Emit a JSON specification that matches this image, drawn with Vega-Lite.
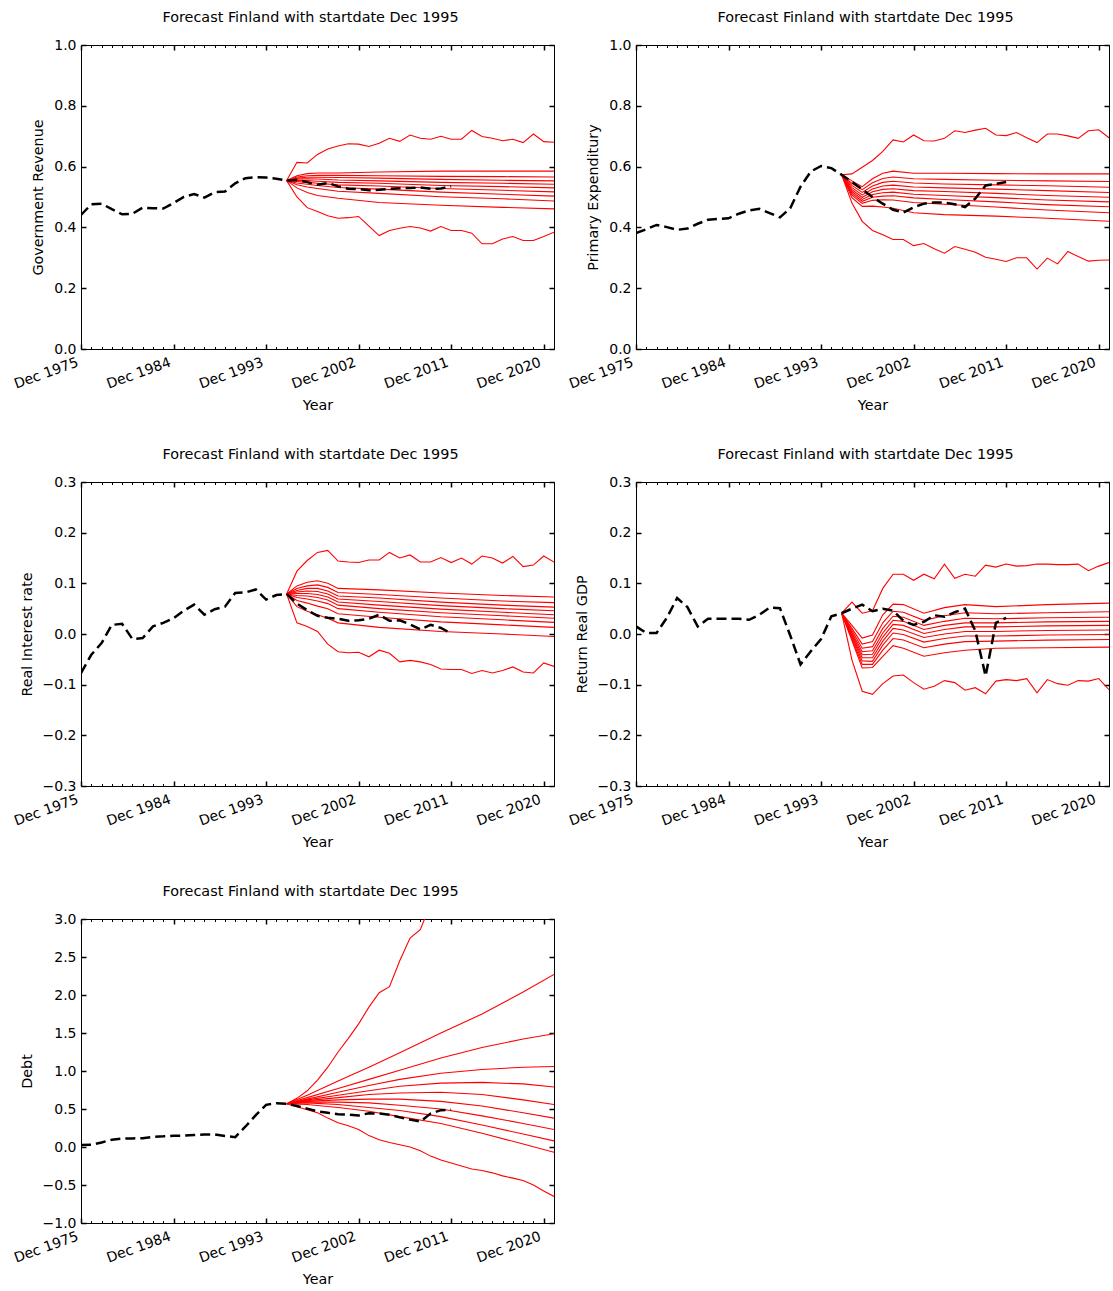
{
  "$schema": "https://vega.github.io/schema/vega-lite/v6.json",
  "background": "white",
  "padding": {"left": 11, "top": 9, "right": 3, "bottom": 3},
  "bounds": "flush",
  "columns": 2,
  "spacing": {"row": 133, "column": 82},
  "concat": [
    {
      "title": "Forecast Finland with startdate Dec 1995",
      "width": 473, "height": 304,
      "layer": [
        {
          "data": {"name": "forecast"},
          "transform": [{"filter": "datum.k === 'GR'"}],
          "mark": {"type": "line", "color": "#ff0000", "strokeWidth": 1.1, "clip": true},
          "encoding": {
            "x": {"field": "t", "type": "quantitative", "scale": {"domain": [1975, 2021], "nice": false, "zero": false},
              "axis": {"orient": "bottom", "title": "Year", "tickCount": 46, "labelExpr": "(datum.value - 1975) % 9 === 0 ? 'Dec ' + datum.value : ''", "tickSize": {"condition": {"test": "(datum.value - 1975) % 9 === 0", "value": -5}, "value": -2.5}, "tickWidth": {"condition": {"test": "(datum.value - 1975) % 9 === 0", "value": 1.5}, "value": 1}, "labelAngle": -20, "labelAlign": "right", "labelBaseline": "top", "labelPadding": 11, "labelOffset": -6, "titlePadding": 7}},
            "y": {"field": "y", "type": "quantitative", "scale": {"domain": [0, 1], "nice": false, "zero": false},
              "axis": {"orient": "left", "title": "Government Revenue", "values": [0, 0.2, 0.4, 0.6, 0.8, 1], "format": ".1f", "tickSize": -5, "tickWidth": 1.5, "labelPadding": 10, "titlePadding": 8}},
            "detail": {"field": "q", "type": "nominal"}
          }
        },
        {
          "data": {"name": "history"},
          "transform": [{"filter": "datum.k === 'GR'"}],
          "mark": {"type": "line", "color": "black", "strokeWidth": 2.5, "strokeDash": [10, 5], "clip": true},
          "encoding": {
            "x": {"field": "t", "type": "quantitative", "scale": {"domain": [1975, 2021], "nice": false, "zero": false},
              "axis": {"orient": "top", "title": null, "labels": false, "tickCount": 46, "tickSize": {"condition": {"test": "(datum.value - 1975) % 9 === 0", "value": -5}, "value": -2.5}, "tickWidth": {"condition": {"test": "(datum.value - 1975) % 9 === 0", "value": 1.5}, "value": 1}}},
            "y": {"field": "y", "type": "quantitative", "scale": {"domain": [0, 1], "nice": false, "zero": false},
              "axis": {"orient": "right", "title": null, "labels": false, "values": [0, 0.2, 0.4, 0.6, 0.8, 1], "tickSize": -5, "tickWidth": 1.5}}
          }
        }
      ],
      "resolve": {"axis": {"x": "independent", "y": "independent"}}
    },
    {
      "title": "Forecast Finland with startdate Dec 1995",
      "width": 473, "height": 304,
      "layer": [
        {
          "data": {"name": "forecast"},
          "transform": [{"filter": "datum.k === 'PE'"}],
          "mark": {"type": "line", "color": "#ff0000", "strokeWidth": 1.1, "clip": true},
          "encoding": {
            "x": {"field": "t", "type": "quantitative", "scale": {"domain": [1975, 2021], "nice": false, "zero": false},
              "axis": {"orient": "bottom", "title": "Year", "tickCount": 46, "labelExpr": "(datum.value - 1975) % 9 === 0 ? 'Dec ' + datum.value : ''", "tickSize": {"condition": {"test": "(datum.value - 1975) % 9 === 0", "value": -5}, "value": -2.5}, "tickWidth": {"condition": {"test": "(datum.value - 1975) % 9 === 0", "value": 1.5}, "value": 1}, "labelAngle": -20, "labelAlign": "right", "labelBaseline": "top", "labelPadding": 11, "labelOffset": -6, "titlePadding": 7}},
            "y": {"field": "y", "type": "quantitative", "scale": {"domain": [0, 1], "nice": false, "zero": false},
              "axis": {"orient": "left", "title": "Primary Expenditury", "values": [0, 0.2, 0.4, 0.6, 0.8, 1], "format": ".1f", "tickSize": -5, "tickWidth": 1.5, "labelPadding": 10, "titlePadding": 8}},
            "detail": {"field": "q", "type": "nominal"}
          }
        },
        {
          "data": {"name": "history"},
          "transform": [{"filter": "datum.k === 'PE'"}],
          "mark": {"type": "line", "color": "black", "strokeWidth": 2.5, "strokeDash": [10, 5], "clip": true},
          "encoding": {
            "x": {"field": "t", "type": "quantitative", "scale": {"domain": [1975, 2021], "nice": false, "zero": false},
              "axis": {"orient": "top", "title": null, "labels": false, "tickCount": 46, "tickSize": {"condition": {"test": "(datum.value - 1975) % 9 === 0", "value": -5}, "value": -2.5}, "tickWidth": {"condition": {"test": "(datum.value - 1975) % 9 === 0", "value": 1.5}, "value": 1}}},
            "y": {"field": "y", "type": "quantitative", "scale": {"domain": [0, 1], "nice": false, "zero": false},
              "axis": {"orient": "right", "title": null, "labels": false, "values": [0, 0.2, 0.4, 0.6, 0.8, 1], "tickSize": -5, "tickWidth": 1.5}}
          }
        }
      ],
      "resolve": {"axis": {"x": "independent", "y": "independent"}}
    },
    {
      "title": "Forecast Finland with startdate Dec 1995",
      "width": 473, "height": 304,
      "layer": [
        {
          "data": {"name": "forecast"},
          "transform": [{"filter": "datum.k === 'RI'"}],
          "mark": {"type": "line", "color": "#ff0000", "strokeWidth": 1.1, "clip": true},
          "encoding": {
            "x": {"field": "t", "type": "quantitative", "scale": {"domain": [1975, 2021], "nice": false, "zero": false},
              "axis": {"orient": "bottom", "title": "Year", "tickCount": 46, "labelExpr": "(datum.value - 1975) % 9 === 0 ? 'Dec ' + datum.value : ''", "tickSize": {"condition": {"test": "(datum.value - 1975) % 9 === 0", "value": -5}, "value": -2.5}, "tickWidth": {"condition": {"test": "(datum.value - 1975) % 9 === 0", "value": 1.5}, "value": 1}, "labelAngle": -20, "labelAlign": "right", "labelBaseline": "top", "labelPadding": 11, "labelOffset": -6, "titlePadding": 7}},
            "y": {"field": "y", "type": "quantitative", "scale": {"domain": [-0.3, 0.3], "nice": false, "zero": false},
              "axis": {"orient": "left", "title": "Real Interest rate", "values": [-0.3, -0.2, -0.1, 0, 0.1, 0.2, 0.3], "format": ".1f", "tickSize": -5, "tickWidth": 1.5, "labelPadding": 10, "titlePadding": 8}},
            "detail": {"field": "q", "type": "nominal"}
          }
        },
        {
          "data": {"name": "history"},
          "transform": [{"filter": "datum.k === 'RI'"}],
          "mark": {"type": "line", "color": "black", "strokeWidth": 2.5, "strokeDash": [10, 5], "clip": true},
          "encoding": {
            "x": {"field": "t", "type": "quantitative", "scale": {"domain": [1975, 2021], "nice": false, "zero": false},
              "axis": {"orient": "top", "title": null, "labels": false, "tickCount": 46, "tickSize": {"condition": {"test": "(datum.value - 1975) % 9 === 0", "value": -5}, "value": -2.5}, "tickWidth": {"condition": {"test": "(datum.value - 1975) % 9 === 0", "value": 1.5}, "value": 1}}},
            "y": {"field": "y", "type": "quantitative", "scale": {"domain": [-0.3, 0.3], "nice": false, "zero": false},
              "axis": {"orient": "right", "title": null, "labels": false, "values": [-0.3, -0.2, -0.1, 0, 0.1, 0.2, 0.3], "tickSize": -5, "tickWidth": 1.5}}
          }
        }
      ],
      "resolve": {"axis": {"x": "independent", "y": "independent"}}
    },
    {
      "title": "Forecast Finland with startdate Dec 1995",
      "width": 473, "height": 304,
      "layer": [
        {
          "data": {"name": "forecast"},
          "transform": [{"filter": "datum.k === 'GDP'"}],
          "mark": {"type": "line", "color": "#ff0000", "strokeWidth": 1.1, "clip": true},
          "encoding": {
            "x": {"field": "t", "type": "quantitative", "scale": {"domain": [1975, 2021], "nice": false, "zero": false},
              "axis": {"orient": "bottom", "title": "Year", "tickCount": 46, "labelExpr": "(datum.value - 1975) % 9 === 0 ? 'Dec ' + datum.value : ''", "tickSize": {"condition": {"test": "(datum.value - 1975) % 9 === 0", "value": -5}, "value": -2.5}, "tickWidth": {"condition": {"test": "(datum.value - 1975) % 9 === 0", "value": 1.5}, "value": 1}, "labelAngle": -20, "labelAlign": "right", "labelBaseline": "top", "labelPadding": 11, "labelOffset": -6, "titlePadding": 7}},
            "y": {"field": "y", "type": "quantitative", "scale": {"domain": [-0.3, 0.3], "nice": false, "zero": false},
              "axis": {"orient": "left", "title": "Return Real GDP", "values": [-0.3, -0.2, -0.1, 0, 0.1, 0.2, 0.3], "format": ".1f", "tickSize": -5, "tickWidth": 1.5, "labelPadding": 10, "titlePadding": 8}},
            "detail": {"field": "q", "type": "nominal"}
          }
        },
        {
          "data": {"name": "history"},
          "transform": [{"filter": "datum.k === 'GDP'"}],
          "mark": {"type": "line", "color": "black", "strokeWidth": 2.5, "strokeDash": [10, 5], "clip": true},
          "encoding": {
            "x": {"field": "t", "type": "quantitative", "scale": {"domain": [1975, 2021], "nice": false, "zero": false},
              "axis": {"orient": "top", "title": null, "labels": false, "tickCount": 46, "tickSize": {"condition": {"test": "(datum.value - 1975) % 9 === 0", "value": -5}, "value": -2.5}, "tickWidth": {"condition": {"test": "(datum.value - 1975) % 9 === 0", "value": 1.5}, "value": 1}}},
            "y": {"field": "y", "type": "quantitative", "scale": {"domain": [-0.3, 0.3], "nice": false, "zero": false},
              "axis": {"orient": "right", "title": null, "labels": false, "values": [-0.3, -0.2, -0.1, 0, 0.1, 0.2, 0.3], "tickSize": -5, "tickWidth": 1.5}}
          }
        }
      ],
      "resolve": {"axis": {"x": "independent", "y": "independent"}}
    },
    {
      "title": "Forecast Finland with startdate Dec 1995",
      "width": 473, "height": 304,
      "layer": [
        {
          "data": {"name": "forecast"},
          "transform": [{"filter": "datum.k === 'Debt'"}],
          "mark": {"type": "line", "color": "#ff0000", "strokeWidth": 1.1, "clip": true},
          "encoding": {
            "x": {"field": "t", "type": "quantitative", "scale": {"domain": [1975, 2021], "nice": false, "zero": false},
              "axis": {"orient": "bottom", "title": "Year", "tickCount": 46, "labelExpr": "(datum.value - 1975) % 9 === 0 ? 'Dec ' + datum.value : ''", "tickSize": {"condition": {"test": "(datum.value - 1975) % 9 === 0", "value": -5}, "value": -2.5}, "tickWidth": {"condition": {"test": "(datum.value - 1975) % 9 === 0", "value": 1.5}, "value": 1}, "labelAngle": -20, "labelAlign": "right", "labelBaseline": "top", "labelPadding": 11, "labelOffset": -6, "titlePadding": 7}},
            "y": {"field": "y", "type": "quantitative", "scale": {"domain": [-1, 3], "nice": false, "zero": false},
              "axis": {"orient": "left", "title": "Debt", "values": [-1, -0.5, 0, 0.5, 1, 1.5, 2, 2.5, 3], "format": ".1f", "tickSize": -5, "tickWidth": 1.5, "labelPadding": 10, "titlePadding": 8}},
            "detail": {"field": "q", "type": "nominal"}
          }
        },
        {
          "data": {"name": "history"},
          "transform": [{"filter": "datum.k === 'Debt'"}],
          "mark": {"type": "line", "color": "black", "strokeWidth": 2.5, "strokeDash": [10, 5], "clip": true},
          "encoding": {
            "x": {"field": "t", "type": "quantitative", "scale": {"domain": [1975, 2021], "nice": false, "zero": false},
              "axis": {"orient": "top", "title": null, "labels": false, "tickCount": 46, "tickSize": {"condition": {"test": "(datum.value - 1975) % 9 === 0", "value": -5}, "value": -2.5}, "tickWidth": {"condition": {"test": "(datum.value - 1975) % 9 === 0", "value": 1.5}, "value": 1}}},
            "y": {"field": "y", "type": "quantitative", "scale": {"domain": [-1, 3], "nice": false, "zero": false},
              "axis": {"orient": "right", "title": null, "labels": false, "values": [-1, -0.5, 0, 0.5, 1, 1.5, 2, 2.5, 3], "tickSize": -5, "tickWidth": 1.5}}
          }
        }
      ],
      "resolve": {"axis": {"x": "independent", "y": "independent"}}
    }
  ],
  "datasets": {
    "history": [
      {"k":"GR","t":1975,"y":0.441},{"k":"GR","t":1976,"y":0.476},{"k":"GR","t":1977,"y":0.478},{"k":"GR","t":1978,"y":0.46},{"k":"GR","t":1979,"y":0.443},{"k":"GR","t":1980,"y":0.445},{"k":"GR","t":1981,"y":0.465},{"k":"GR","t":1982,"y":0.463},{"k":"GR","t":1983,"y":0.462},{"k":"GR","t":1984,"y":0.48},{"k":"GR","t":1985,"y":0.5},{"k":"GR","t":1986,"y":0.51},{"k":"GR","t":1987,"y":0.498},{"k":"GR","t":1988,"y":0.516},{"k":"GR","t":1989,"y":0.518},{"k":"GR","t":1990,"y":0.545},{"k":"GR","t":1991,"y":0.562},{"k":"GR","t":1992,"y":0.565},{"k":"GR","t":1993,"y":0.564},{"k":"GR","t":1994,"y":0.56},{"k":"GR","t":1995,"y":0.554},{"k":"GR","t":1996,"y":0.556},{"k":"GR","t":1997,"y":0.549},{"k":"GR","t":1998,"y":0.54},{"k":"GR","t":1999,"y":0.546},{"k":"GR","t":2000,"y":0.535},{"k":"GR","t":2001,"y":0.527},{"k":"GR","t":2002,"y":0.526},{"k":"GR","t":2003,"y":0.522},{"k":"GR","t":2004,"y":0.524},{"k":"GR","t":2005,"y":0.527},{"k":"GR","t":2006,"y":0.529},{"k":"GR","t":2007,"y":0.53},{"k":"GR","t":2008,"y":0.531},{"k":"GR","t":2009,"y":0.527},{"k":"GR","t":2010,"y":0.528},{"k":"GR","t":2011,"y":0.535},
      {"k":"PE","t":1975,"y":0.381},{"k":"PE","t":1976,"y":0.394},{"k":"PE","t":1977,"y":0.408},{"k":"PE","t":1978,"y":0.401},{"k":"PE","t":1979,"y":0.392},{"k":"PE","t":1980,"y":0.396},{"k":"PE","t":1981,"y":0.412},{"k":"PE","t":1982,"y":0.425},{"k":"PE","t":1983,"y":0.428},{"k":"PE","t":1984,"y":0.43},{"k":"PE","t":1985,"y":0.445},{"k":"PE","t":1986,"y":0.456},{"k":"PE","t":1987,"y":0.461},{"k":"PE","t":1988,"y":0.447},{"k":"PE","t":1989,"y":0.433},{"k":"PE","t":1990,"y":0.463},{"k":"PE","t":1991,"y":0.534},{"k":"PE","t":1992,"y":0.584},{"k":"PE","t":1993,"y":0.602},{"k":"PE","t":1994,"y":0.595},{"k":"PE","t":1995,"y":0.573},{"k":"PE","t":1996,"y":0.55},{"k":"PE","t":1997,"y":0.525},{"k":"PE","t":1998,"y":0.5},{"k":"PE","t":1999,"y":0.478},{"k":"PE","t":2000,"y":0.458},{"k":"PE","t":2001,"y":0.449},{"k":"PE","t":2002,"y":0.466},{"k":"PE","t":2003,"y":0.478},{"k":"PE","t":2004,"y":0.482},{"k":"PE","t":2005,"y":0.482},{"k":"PE","t":2006,"y":0.476},{"k":"PE","t":2007,"y":0.467},{"k":"PE","t":2008,"y":0.495},{"k":"PE","t":2009,"y":0.538},{"k":"PE","t":2010,"y":0.543},{"k":"PE","t":2011,"y":0.549},
      {"k":"RI","t":1975,"y":-0.077},{"k":"RI","t":1976,"y":-0.041},{"k":"RI","t":1977,"y":-0.018},{"k":"RI","t":1978,"y":0.018},{"k":"RI","t":1979,"y":0.02},{"k":"RI","t":1980,"y":-0.01},{"k":"RI","t":1981,"y":-0.008},{"k":"RI","t":1982,"y":0.015},{"k":"RI","t":1983,"y":0.022},{"k":"RI","t":1984,"y":0.031},{"k":"RI","t":1985,"y":0.046},{"k":"RI","t":1986,"y":0.058},{"k":"RI","t":1987,"y":0.038},{"k":"RI","t":1988,"y":0.049},{"k":"RI","t":1989,"y":0.054},{"k":"RI","t":1990,"y":0.081},{"k":"RI","t":1991,"y":0.082},{"k":"RI","t":1992,"y":0.088},{"k":"RI","t":1993,"y":0.068},{"k":"RI","t":1994,"y":0.077},{"k":"RI","t":1995,"y":0.079},{"k":"RI","t":1996,"y":0.06},{"k":"RI","t":1997,"y":0.047},{"k":"RI","t":1998,"y":0.036},{"k":"RI","t":1999,"y":0.032},{"k":"RI","t":2000,"y":0.03},{"k":"RI","t":2001,"y":0.026},{"k":"RI","t":2002,"y":0.027},{"k":"RI","t":2003,"y":0.03},{"k":"RI","t":2004,"y":0.038},{"k":"RI","t":2005,"y":0.026},{"k":"RI","t":2006,"y":0.027},{"k":"RI","t":2007,"y":0.019},{"k":"RI","t":2008,"y":0.009},{"k":"RI","t":2009,"y":0.018},{"k":"RI","t":2010,"y":0.012},{"k":"RI","t":2011,"y":0.001},
      {"k":"GDP","t":1975,"y":0.015},{"k":"GDP","t":1976,"y":0.002},{"k":"GDP","t":1977,"y":0.002},{"k":"GDP","t":1978,"y":0.032},{"k":"GDP","t":1979,"y":0.071},{"k":"GDP","t":1980,"y":0.053},{"k":"GDP","t":1981,"y":0.015},{"k":"GDP","t":1982,"y":0.03},{"k":"GDP","t":1983,"y":0.03},{"k":"GDP","t":1984,"y":0.03},{"k":"GDP","t":1985,"y":0.03},{"k":"GDP","t":1986,"y":0.028},{"k":"GDP","t":1987,"y":0.038},{"k":"GDP","t":1988,"y":0.052},{"k":"GDP","t":1989,"y":0.051},{"k":"GDP","t":1990,"y":-0.003},{"k":"GDP","t":1991,"y":-0.06},{"k":"GDP","t":1992,"y":-0.034},{"k":"GDP","t":1993,"y":-0.01},{"k":"GDP","t":1994,"y":0.035},{"k":"GDP","t":1995,"y":0.041},{"k":"GDP","t":1996,"y":0.05},{"k":"GDP","t":1997,"y":0.058},{"k":"GDP","t":1998,"y":0.045},{"k":"GDP","t":1999,"y":0.05},{"k":"GDP","t":2000,"y":0.046},{"k":"GDP","t":2001,"y":0.026},{"k":"GDP","t":2002,"y":0.018},{"k":"GDP","t":2003,"y":0.024},{"k":"GDP","t":2004,"y":0.037},{"k":"GDP","t":2005,"y":0.034},{"k":"GDP","t":2006,"y":0.043},{"k":"GDP","t":2007,"y":0.05},{"k":"GDP","t":2008,"y":0.006},{"k":"GDP","t":2009,"y":-0.083},{"k":"GDP","t":2010,"y":0.022},{"k":"GDP","t":2011,"y":0.032},
      {"k":"Debt","t":1975,"y":0.026},{"k":"Debt","t":1976,"y":0.03},{"k":"Debt","t":1977,"y":0.06},{"k":"Debt","t":1978,"y":0.095},{"k":"Debt","t":1979,"y":0.11},{"k":"Debt","t":1980,"y":0.113},{"k":"Debt","t":1981,"y":0.115},{"k":"Debt","t":1982,"y":0.135},{"k":"Debt","t":1983,"y":0.14},{"k":"Debt","t":1984,"y":0.148},{"k":"Debt","t":1985,"y":0.15},{"k":"Debt","t":1986,"y":0.158},{"k":"Debt","t":1987,"y":0.165},{"k":"Debt","t":1988,"y":0.165},{"k":"Debt","t":1989,"y":0.145},{"k":"Debt","t":1990,"y":0.13},{"k":"Debt","t":1991,"y":0.27},{"k":"Debt","t":1992,"y":0.42},{"k":"Debt","t":1993,"y":0.555},{"k":"Debt","t":1994,"y":0.575},{"k":"Debt","t":1995,"y":0.57},{"k":"Debt","t":1996,"y":0.54},{"k":"Debt","t":1997,"y":0.505},{"k":"Debt","t":1998,"y":0.47},{"k":"Debt","t":1999,"y":0.45},{"k":"Debt","t":2000,"y":0.43},{"k":"Debt","t":2001,"y":0.425},{"k":"Debt","t":2002,"y":0.415},{"k":"Debt","t":2003,"y":0.445},{"k":"Debt","t":2004,"y":0.44},{"k":"Debt","t":2005,"y":0.425},{"k":"Debt","t":2006,"y":0.39},{"k":"Debt","t":2007,"y":0.36},{"k":"Debt","t":2008,"y":0.335},{"k":"Debt","t":2009,"y":0.44},{"k":"Debt","t":2010,"y":0.485},{"k":"Debt","t":2011,"y":0.49}
    ],
    "forecast": [
      {"k":"GR","q":99,"t":1995,"y":0.554},{"k":"GR","q":99,"t":1996,"y":0.614},{"k":"GR","q":99,"t":1997,"y":0.612},{"k":"GR","q":99,"t":1998,"y":0.64},{"k":"GR","q":99,"t":1999,"y":0.658},{"k":"GR","q":99,"t":2000,"y":0.668},{"k":"GR","q":99,"t":2001,"y":0.675},{"k":"GR","q":99,"t":2002,"y":0.674},{"k":"GR","q":99,"t":2003,"y":0.666},{"k":"GR","q":99,"t":2004,"y":0.677},{"k":"GR","q":99,"t":2005,"y":0.693},{"k":"GR","q":99,"t":2006,"y":0.683},{"k":"GR","q":99,"t":2007,"y":0.704},{"k":"GR","q":99,"t":2008,"y":0.693},{"k":"GR","q":99,"t":2009,"y":0.69},{"k":"GR","q":99,"t":2010,"y":0.7},{"k":"GR","q":99,"t":2011,"y":0.69},{"k":"GR","q":99,"t":2012,"y":0.69},{"k":"GR","q":99,"t":2013,"y":0.719},{"k":"GR","q":99,"t":2014,"y":0.699},{"k":"GR","q":99,"t":2015,"y":0.693},{"k":"GR","q":99,"t":2016,"y":0.685},{"k":"GR","q":99,"t":2017,"y":0.69},{"k":"GR","q":99,"t":2018,"y":0.679},{"k":"GR","q":99,"t":2019,"y":0.707},{"k":"GR","q":99,"t":2020,"y":0.682},{"k":"GR","q":99,"t":2021,"y":0.68},
      {"k":"GR","q":1,"t":1995,"y":0.554},{"k":"GR","q":1,"t":1996,"y":0.5},{"k":"GR","q":1,"t":1997,"y":0.465},{"k":"GR","q":1,"t":1998,"y":0.452},{"k":"GR","q":1,"t":1999,"y":0.438},{"k":"GR","q":1,"t":2000,"y":0.43},{"k":"GR","q":1,"t":2001,"y":0.432},{"k":"GR","q":1,"t":2002,"y":0.436},{"k":"GR","q":1,"t":2003,"y":0.404},{"k":"GR","q":1,"t":2004,"y":0.373},{"k":"GR","q":1,"t":2005,"y":0.39},{"k":"GR","q":1,"t":2006,"y":0.397},{"k":"GR","q":1,"t":2007,"y":0.403},{"k":"GR","q":1,"t":2008,"y":0.398},{"k":"GR","q":1,"t":2009,"y":0.388},{"k":"GR","q":1,"t":2010,"y":0.403},{"k":"GR","q":1,"t":2011,"y":0.39},{"k":"GR","q":1,"t":2012,"y":0.39},{"k":"GR","q":1,"t":2013,"y":0.381},{"k":"GR","q":1,"t":2014,"y":0.346},{"k":"GR","q":1,"t":2015,"y":0.346},{"k":"GR","q":1,"t":2016,"y":0.362},{"k":"GR","q":1,"t":2017,"y":0.37},{"k":"GR","q":1,"t":2018,"y":0.357},{"k":"GR","q":1,"t":2019,"y":0.357},{"k":"GR","q":1,"t":2020,"y":0.37},{"k":"GR","q":1,"t":2021,"y":0.384},
      {"k":"GR","q":90,"t":1995,"y":0.554},{"k":"GR","q":90,"t":1996,"y":0.57},{"k":"GR","q":90,"t":1997,"y":0.577},{"k":"GR","q":90,"t":1998,"y":0.579},{"k":"GR","q":90,"t":2000,"y":0.579},{"k":"GR","q":90,"t":2004,"y":0.582},{"k":"GR","q":90,"t":2010,"y":0.585},{"k":"GR","q":90,"t":2016,"y":0.585},{"k":"GR","q":90,"t":2021,"y":0.585},
      {"k":"GR","q":80,"t":1995,"y":0.554},{"k":"GR","q":80,"t":1996,"y":0.566},{"k":"GR","q":80,"t":1997,"y":0.57},{"k":"GR","q":80,"t":1998,"y":0.571},{"k":"GR","q":80,"t":2000,"y":0.571},{"k":"GR","q":80,"t":2004,"y":0.57},{"k":"GR","q":80,"t":2010,"y":0.568},{"k":"GR","q":80,"t":2016,"y":0.567},{"k":"GR","q":80,"t":2021,"y":0.566},
      {"k":"GR","q":70,"t":1995,"y":0.554},{"k":"GR","q":70,"t":1996,"y":0.562},{"k":"GR","q":70,"t":1997,"y":0.565},{"k":"GR","q":70,"t":1998,"y":0.565},{"k":"GR","q":70,"t":2000,"y":0.564},{"k":"GR","q":70,"t":2004,"y":0.562},{"k":"GR","q":70,"t":2010,"y":0.558},{"k":"GR","q":70,"t":2016,"y":0.555},{"k":"GR","q":70,"t":2021,"y":0.553},
      {"k":"GR","q":60,"t":1995,"y":0.554},{"k":"GR","q":60,"t":1996,"y":0.559},{"k":"GR","q":60,"t":1997,"y":0.56},{"k":"GR","q":60,"t":1998,"y":0.559},{"k":"GR","q":60,"t":2000,"y":0.556},{"k":"GR","q":60,"t":2004,"y":0.553},{"k":"GR","q":60,"t":2010,"y":0.548},{"k":"GR","q":60,"t":2016,"y":0.545},{"k":"GR","q":60,"t":2021,"y":0.542},
      {"k":"GR","q":50,"t":1995,"y":0.554},{"k":"GR","q":50,"t":1996,"y":0.555},{"k":"GR","q":50,"t":1997,"y":0.554},{"k":"GR","q":50,"t":1998,"y":0.552},{"k":"GR","q":50,"t":2000,"y":0.548},{"k":"GR","q":50,"t":2004,"y":0.545},{"k":"GR","q":50,"t":2010,"y":0.538},{"k":"GR","q":50,"t":2016,"y":0.534},{"k":"GR","q":50,"t":2021,"y":0.53},
      {"k":"GR","q":40,"t":1995,"y":0.554},{"k":"GR","q":40,"t":1996,"y":0.551},{"k":"GR","q":40,"t":1997,"y":0.548},{"k":"GR","q":40,"t":1998,"y":0.545},{"k":"GR","q":40,"t":2000,"y":0.54},{"k":"GR","q":40,"t":2004,"y":0.536},{"k":"GR","q":40,"t":2010,"y":0.528},{"k":"GR","q":40,"t":2016,"y":0.522},{"k":"GR","q":40,"t":2021,"y":0.517},
      {"k":"GR","q":30,"t":1995,"y":0.554},{"k":"GR","q":30,"t":1996,"y":0.546},{"k":"GR","q":30,"t":1997,"y":0.542},{"k":"GR","q":30,"t":1998,"y":0.538},{"k":"GR","q":30,"t":2000,"y":0.531},{"k":"GR","q":30,"t":2004,"y":0.526},{"k":"GR","q":30,"t":2010,"y":0.516},{"k":"GR","q":30,"t":2016,"y":0.509},{"k":"GR","q":30,"t":2021,"y":0.503},
      {"k":"GR","q":20,"t":1995,"y":0.554},{"k":"GR","q":20,"t":1996,"y":0.54},{"k":"GR","q":20,"t":1997,"y":0.533},{"k":"GR","q":20,"t":1998,"y":0.528},{"k":"GR","q":20,"t":2000,"y":0.519},{"k":"GR","q":20,"t":2004,"y":0.512},{"k":"GR","q":20,"t":2010,"y":0.501},{"k":"GR","q":20,"t":2016,"y":0.494},{"k":"GR","q":20,"t":2021,"y":0.487},
      {"k":"GR","q":10,"t":1995,"y":0.554},{"k":"GR","q":10,"t":1996,"y":0.53},{"k":"GR","q":10,"t":1997,"y":0.515},{"k":"GR","q":10,"t":1998,"y":0.505},{"k":"GR","q":10,"t":2000,"y":0.496},{"k":"GR","q":10,"t":2004,"y":0.482},{"k":"GR","q":10,"t":2010,"y":0.473},{"k":"GR","q":10,"t":2016,"y":0.466},{"k":"GR","q":10,"t":2021,"y":0.461},

      {"k":"PE","q":99,"t":1995,"y":0.573},{"k":"PE","q":99,"t":1996,"y":0.576},{"k":"PE","q":99,"t":1997,"y":0.598},{"k":"PE","q":99,"t":1998,"y":0.62},{"k":"PE","q":99,"t":1999,"y":0.65},{"k":"PE","q":99,"t":2000,"y":0.688},{"k":"PE","q":99,"t":2001,"y":0.681},{"k":"PE","q":99,"t":2002,"y":0.704},{"k":"PE","q":99,"t":2003,"y":0.685},{"k":"PE","q":99,"t":2004,"y":0.684},{"k":"PE","q":99,"t":2005,"y":0.693},{"k":"PE","q":99,"t":2006,"y":0.718},{"k":"PE","q":99,"t":2007,"y":0.712},{"k":"PE","q":99,"t":2008,"y":0.72},{"k":"PE","q":99,"t":2009,"y":0.726},{"k":"PE","q":99,"t":2010,"y":0.704},{"k":"PE","q":99,"t":2011,"y":0.702},{"k":"PE","q":99,"t":2012,"y":0.712},{"k":"PE","q":99,"t":2013,"y":0.695},{"k":"PE","q":99,"t":2014,"y":0.679},{"k":"PE","q":99,"t":2015,"y":0.707},{"k":"PE","q":99,"t":2016,"y":0.707},{"k":"PE","q":99,"t":2017,"y":0.701},{"k":"PE","q":99,"t":2018,"y":0.693},{"k":"PE","q":99,"t":2019,"y":0.718},{"k":"PE","q":99,"t":2020,"y":0.721},{"k":"PE","q":99,"t":2021,"y":0.695},
      {"k":"PE","q":1,"t":1995,"y":0.573},{"k":"PE","q":1,"t":1996,"y":0.48},{"k":"PE","q":1,"t":1997,"y":0.42},{"k":"PE","q":1,"t":1998,"y":0.39},{"k":"PE","q":1,"t":1999,"y":0.376},{"k":"PE","q":1,"t":2000,"y":0.36},{"k":"PE","q":1,"t":2001,"y":0.36},{"k":"PE","q":1,"t":2002,"y":0.34},{"k":"PE","q":1,"t":2003,"y":0.347},{"k":"PE","q":1,"t":2004,"y":0.33},{"k":"PE","q":1,"t":2005,"y":0.315},{"k":"PE","q":1,"t":2006,"y":0.337},{"k":"PE","q":1,"t":2007,"y":0.328},{"k":"PE","q":1,"t":2008,"y":0.318},{"k":"PE","q":1,"t":2009,"y":0.302},{"k":"PE","q":1,"t":2010,"y":0.295},{"k":"PE","q":1,"t":2011,"y":0.288},{"k":"PE","q":1,"t":2012,"y":0.3},{"k":"PE","q":1,"t":2013,"y":0.3},{"k":"PE","q":1,"t":2014,"y":0.263},{"k":"PE","q":1,"t":2015,"y":0.299},{"k":"PE","q":1,"t":2016,"y":0.28},{"k":"PE","q":1,"t":2017,"y":0.321},{"k":"PE","q":1,"t":2018,"y":0.304},{"k":"PE","q":1,"t":2019,"y":0.289},{"k":"PE","q":1,"t":2020,"y":0.292},{"k":"PE","q":1,"t":2021,"y":0.293},
      {"k":"PE","q":90,"t":1995,"y":0.573},{"k":"PE","q":90,"t":1996,"y":0.553},{"k":"PE","q":90,"t":1997,"y":0.534},{"k":"PE","q":90,"t":1998,"y":0.56},{"k":"PE","q":90,"t":1999,"y":0.578},{"k":"PE","q":90,"t":2000,"y":0.585},{"k":"PE","q":90,"t":2002,"y":0.578},{"k":"PE","q":90,"t":2005,"y":0.578},{"k":"PE","q":90,"t":2010,"y":0.577},{"k":"PE","q":90,"t":2015,"y":0.576},{"k":"PE","q":90,"t":2021,"y":0.576},
      {"k":"PE","q":80,"t":1995,"y":0.573},{"k":"PE","q":80,"t":1996,"y":0.545},{"k":"PE","q":80,"t":1997,"y":0.524},{"k":"PE","q":80,"t":1998,"y":0.547},{"k":"PE","q":80,"t":1999,"y":0.561},{"k":"PE","q":80,"t":2000,"y":0.566},{"k":"PE","q":80,"t":2002,"y":0.56},{"k":"PE","q":80,"t":2005,"y":0.558},{"k":"PE","q":80,"t":2010,"y":0.555},{"k":"PE","q":80,"t":2015,"y":0.553},{"k":"PE","q":80,"t":2021,"y":0.551},
      {"k":"PE","q":70,"t":1995,"y":0.573},{"k":"PE","q":70,"t":1996,"y":0.538},{"k":"PE","q":70,"t":1997,"y":0.515},{"k":"PE","q":70,"t":1998,"y":0.536},{"k":"PE","q":70,"t":1999,"y":0.548},{"k":"PE","q":70,"t":2000,"y":0.552},{"k":"PE","q":70,"t":2002,"y":0.546},{"k":"PE","q":70,"t":2005,"y":0.543},{"k":"PE","q":70,"t":2010,"y":0.54},{"k":"PE","q":70,"t":2015,"y":0.537},{"k":"PE","q":70,"t":2021,"y":0.532},
      {"k":"PE","q":60,"t":1995,"y":0.573},{"k":"PE","q":60,"t":1996,"y":0.531},{"k":"PE","q":60,"t":1997,"y":0.507},{"k":"PE","q":60,"t":1998,"y":0.526},{"k":"PE","q":60,"t":1999,"y":0.536},{"k":"PE","q":60,"t":2000,"y":0.539},{"k":"PE","q":60,"t":2002,"y":0.533},{"k":"PE","q":60,"t":2005,"y":0.53},{"k":"PE","q":60,"t":2010,"y":0.526},{"k":"PE","q":60,"t":2015,"y":0.521},{"k":"PE","q":60,"t":2021,"y":0.515},
      {"k":"PE","q":50,"t":1995,"y":0.573},{"k":"PE","q":50,"t":1996,"y":0.524},{"k":"PE","q":50,"t":1997,"y":0.499},{"k":"PE","q":50,"t":1998,"y":0.517},{"k":"PE","q":50,"t":1999,"y":0.525},{"k":"PE","q":50,"t":2000,"y":0.527},{"k":"PE","q":50,"t":2002,"y":0.521},{"k":"PE","q":50,"t":2005,"y":0.518},{"k":"PE","q":50,"t":2010,"y":0.512},{"k":"PE","q":50,"t":2015,"y":0.505},{"k":"PE","q":50,"t":2021,"y":0.499},
      {"k":"PE","q":40,"t":1995,"y":0.573},{"k":"PE","q":40,"t":1996,"y":0.518},{"k":"PE","q":40,"t":1997,"y":0.492},{"k":"PE","q":40,"t":1998,"y":0.508},{"k":"PE","q":40,"t":1999,"y":0.514},{"k":"PE","q":40,"t":2000,"y":0.516},{"k":"PE","q":40,"t":2002,"y":0.509},{"k":"PE","q":40,"t":2005,"y":0.505},{"k":"PE","q":40,"t":2010,"y":0.498},{"k":"PE","q":40,"t":2015,"y":0.49},{"k":"PE","q":40,"t":2021,"y":0.484},
      {"k":"PE","q":30,"t":1995,"y":0.573},{"k":"PE","q":30,"t":1996,"y":0.512},{"k":"PE","q":30,"t":1997,"y":0.486},{"k":"PE","q":30,"t":1998,"y":0.499},{"k":"PE","q":30,"t":1999,"y":0.503},{"k":"PE","q":30,"t":2000,"y":0.504},{"k":"PE","q":30,"t":2002,"y":0.497},{"k":"PE","q":30,"t":2005,"y":0.492},{"k":"PE","q":30,"t":2010,"y":0.484},{"k":"PE","q":30,"t":2015,"y":0.475},{"k":"PE","q":30,"t":2021,"y":0.468},
      {"k":"PE","q":20,"t":1995,"y":0.573},{"k":"PE","q":20,"t":1996,"y":0.506},{"k":"PE","q":20,"t":1997,"y":0.479},{"k":"PE","q":20,"t":1998,"y":0.489},{"k":"PE","q":20,"t":1999,"y":0.491},{"k":"PE","q":20,"t":2000,"y":0.49},{"k":"PE","q":20,"t":2002,"y":0.482},{"k":"PE","q":20,"t":2005,"y":0.476},{"k":"PE","q":20,"t":2010,"y":0.467},{"k":"PE","q":20,"t":2015,"y":0.457},{"k":"PE","q":20,"t":2021,"y":0.448},
      {"k":"PE","q":10,"t":1995,"y":0.573},{"k":"PE","q":10,"t":1996,"y":0.498},{"k":"PE","q":10,"t":1997,"y":0.469},{"k":"PE","q":10,"t":1998,"y":0.47},{"k":"PE","q":10,"t":1999,"y":0.467},{"k":"PE","q":10,"t":2000,"y":0.463},{"k":"PE","q":10,"t":2002,"y":0.448},{"k":"PE","q":10,"t":2005,"y":0.442},{"k":"PE","q":10,"t":2010,"y":0.437},{"k":"PE","q":10,"t":2015,"y":0.43},{"k":"PE","q":10,"t":2021,"y":0.42},

      {"k":"RI","q":99,"t":1995,"y":0.079},{"k":"RI","q":99,"t":1996,"y":0.124},{"k":"RI","q":99,"t":1997,"y":0.145},{"k":"RI","q":99,"t":1998,"y":0.161},{"k":"RI","q":99,"t":1999,"y":0.165},{"k":"RI","q":99,"t":2000,"y":0.144},{"k":"RI","q":99,"t":2001,"y":0.142},{"k":"RI","q":99,"t":2002,"y":0.141},{"k":"RI","q":99,"t":2003,"y":0.146},{"k":"RI","q":99,"t":2004,"y":0.146},{"k":"RI","q":99,"t":2005,"y":0.161},{"k":"RI","q":99,"t":2006,"y":0.15},{"k":"RI","q":99,"t":2007,"y":0.156},{"k":"RI","q":99,"t":2008,"y":0.142},{"k":"RI","q":99,"t":2009,"y":0.142},{"k":"RI","q":99,"t":2010,"y":0.151},{"k":"RI","q":99,"t":2011,"y":0.141},{"k":"RI","q":99,"t":2012,"y":0.15},{"k":"RI","q":99,"t":2013,"y":0.138},{"k":"RI","q":99,"t":2014,"y":0.154},{"k":"RI","q":99,"t":2015,"y":0.15},{"k":"RI","q":99,"t":2016,"y":0.14},{"k":"RI","q":99,"t":2017,"y":0.153},{"k":"RI","q":99,"t":2018,"y":0.133},{"k":"RI","q":99,"t":2019,"y":0.136},{"k":"RI","q":99,"t":2020,"y":0.154},{"k":"RI","q":99,"t":2021,"y":0.142},
      {"k":"RI","q":1,"t":1995,"y":0.079},{"k":"RI","q":1,"t":1996,"y":0.022},{"k":"RI","q":1,"t":1997,"y":0.015},{"k":"RI","q":1,"t":1998,"y":0.005},{"k":"RI","q":1,"t":1999,"y":-0.02},{"k":"RI","q":1,"t":2000,"y":-0.035},{"k":"RI","q":1,"t":2001,"y":-0.037},{"k":"RI","q":1,"t":2002,"y":-0.036},{"k":"RI","q":1,"t":2003,"y":-0.045},{"k":"RI","q":1,"t":2004,"y":-0.032},{"k":"RI","q":1,"t":2005,"y":-0.038},{"k":"RI","q":1,"t":2006,"y":-0.055},{"k":"RI","q":1,"t":2007,"y":-0.052},{"k":"RI","q":1,"t":2008,"y":-0.055},{"k":"RI","q":1,"t":2009,"y":-0.06},{"k":"RI","q":1,"t":2010,"y":-0.069},{"k":"RI","q":1,"t":2011,"y":-0.07},{"k":"RI","q":1,"t":2012,"y":-0.07},{"k":"RI","q":1,"t":2013,"y":-0.078},{"k":"RI","q":1,"t":2014,"y":-0.072},{"k":"RI","q":1,"t":2015,"y":-0.077},{"k":"RI","q":1,"t":2016,"y":-0.072},{"k":"RI","q":1,"t":2017,"y":-0.065},{"k":"RI","q":1,"t":2018,"y":-0.075},{"k":"RI","q":1,"t":2019,"y":-0.077},{"k":"RI","q":1,"t":2020,"y":-0.057},{"k":"RI","q":1,"t":2021,"y":-0.064},
      {"k":"RI","q":90,"t":1995,"y":0.079},{"k":"RI","q":90,"t":1996,"y":0.095},{"k":"RI","q":90,"t":1997,"y":0.102},{"k":"RI","q":90,"t":1998,"y":0.105},{"k":"RI","q":90,"t":1999,"y":0.1},{"k":"RI","q":90,"t":2000,"y":0.09},{"k":"RI","q":90,"t":2004,"y":0.087},{"k":"RI","q":90,"t":2010,"y":0.081},{"k":"RI","q":90,"t":2016,"y":0.076},{"k":"RI","q":90,"t":2021,"y":0.073},
      {"k":"RI","q":80,"t":1995,"y":0.079},{"k":"RI","q":80,"t":1996,"y":0.09},{"k":"RI","q":80,"t":1997,"y":0.095},{"k":"RI","q":80,"t":1998,"y":0.097},{"k":"RI","q":80,"t":1999,"y":0.092},{"k":"RI","q":80,"t":2000,"y":0.082},{"k":"RI","q":80,"t":2004,"y":0.078},{"k":"RI","q":80,"t":2010,"y":0.071},{"k":"RI","q":80,"t":2016,"y":0.065},{"k":"RI","q":80,"t":2021,"y":0.062},
      {"k":"RI","q":70,"t":1995,"y":0.079},{"k":"RI","q":70,"t":1996,"y":0.086},{"k":"RI","q":70,"t":1997,"y":0.09},{"k":"RI","q":70,"t":1998,"y":0.09},{"k":"RI","q":70,"t":1999,"y":0.085},{"k":"RI","q":70,"t":2000,"y":0.075},{"k":"RI","q":70,"t":2004,"y":0.071},{"k":"RI","q":70,"t":2010,"y":0.063},{"k":"RI","q":70,"t":2016,"y":0.057},{"k":"RI","q":70,"t":2021,"y":0.053},
      {"k":"RI","q":60,"t":1995,"y":0.079},{"k":"RI","q":60,"t":1996,"y":0.083},{"k":"RI","q":60,"t":1997,"y":0.085},{"k":"RI","q":60,"t":1998,"y":0.084},{"k":"RI","q":60,"t":1999,"y":0.079},{"k":"RI","q":60,"t":2000,"y":0.069},{"k":"RI","q":60,"t":2004,"y":0.064},{"k":"RI","q":60,"t":2010,"y":0.056},{"k":"RI","q":60,"t":2016,"y":0.05},{"k":"RI","q":60,"t":2021,"y":0.046},
      {"k":"RI","q":50,"t":1995,"y":0.079},{"k":"RI","q":50,"t":1996,"y":0.08},{"k":"RI","q":50,"t":1997,"y":0.08},{"k":"RI","q":50,"t":1998,"y":0.078},{"k":"RI","q":50,"t":1999,"y":0.073},{"k":"RI","q":50,"t":2000,"y":0.063},{"k":"RI","q":50,"t":2004,"y":0.057},{"k":"RI","q":50,"t":2010,"y":0.049},{"k":"RI","q":50,"t":2016,"y":0.043},{"k":"RI","q":50,"t":2021,"y":0.038},
      {"k":"RI","q":40,"t":1995,"y":0.079},{"k":"RI","q":40,"t":1996,"y":0.076},{"k":"RI","q":40,"t":1997,"y":0.075},{"k":"RI","q":40,"t":1998,"y":0.072},{"k":"RI","q":40,"t":1999,"y":0.067},{"k":"RI","q":40,"t":2000,"y":0.057},{"k":"RI","q":40,"t":2004,"y":0.05},{"k":"RI","q":40,"t":2010,"y":0.042},{"k":"RI","q":40,"t":2016,"y":0.036},{"k":"RI","q":40,"t":2021,"y":0.031},
      {"k":"RI","q":30,"t":1995,"y":0.079},{"k":"RI","q":30,"t":1996,"y":0.072},{"k":"RI","q":30,"t":1997,"y":0.069},{"k":"RI","q":30,"t":1998,"y":0.065},{"k":"RI","q":30,"t":1999,"y":0.06},{"k":"RI","q":30,"t":2000,"y":0.05},{"k":"RI","q":30,"t":2004,"y":0.043},{"k":"RI","q":30,"t":2010,"y":0.034},{"k":"RI","q":30,"t":2016,"y":0.028},{"k":"RI","q":30,"t":2021,"y":0.023},
      {"k":"RI","q":20,"t":1995,"y":0.079},{"k":"RI","q":20,"t":1996,"y":0.066},{"k":"RI","q":20,"t":1997,"y":0.061},{"k":"RI","q":20,"t":1998,"y":0.055},{"k":"RI","q":20,"t":1999,"y":0.05},{"k":"RI","q":20,"t":2000,"y":0.04},{"k":"RI","q":20,"t":2004,"y":0.033},{"k":"RI","q":20,"t":2010,"y":0.024},{"k":"RI","q":20,"t":2016,"y":0.018},{"k":"RI","q":20,"t":2021,"y":0.013},
      {"k":"RI","q":10,"t":1995,"y":0.079},{"k":"RI","q":10,"t":1996,"y":0.054},{"k":"RI","q":10,"t":1997,"y":0.045},{"k":"RI","q":10,"t":1998,"y":0.038},{"k":"RI","q":10,"t":1999,"y":0.031},{"k":"RI","q":10,"t":2000,"y":0.022},{"k":"RI","q":10,"t":2004,"y":0.013},{"k":"RI","q":10,"t":2010,"y":0.005},{"k":"RI","q":10,"t":2016,"y":0},{"k":"RI","q":10,"t":2021,"y":-0.005},

      {"k":"GDP","q":99,"t":1995,"y":0.041},{"k":"GDP","q":99,"t":1996,"y":0.063},{"k":"GDP","q":99,"t":1997,"y":0.041},{"k":"GDP","q":99,"t":1998,"y":0.046},{"k":"GDP","q":99,"t":1999,"y":0.09},{"k":"GDP","q":99,"t":2000,"y":0.118},{"k":"GDP","q":99,"t":2001,"y":0.118},{"k":"GDP","q":99,"t":2002,"y":0.106},{"k":"GDP","q":99,"t":2003,"y":0.118},{"k":"GDP","q":99,"t":2004,"y":0.109},{"k":"GDP","q":99,"t":2005,"y":0.138},{"k":"GDP","q":99,"t":2006,"y":0.11},{"k":"GDP","q":99,"t":2007,"y":0.118},{"k":"GDP","q":99,"t":2008,"y":0.114},{"k":"GDP","q":99,"t":2009,"y":0.136},{"k":"GDP","q":99,"t":2010,"y":0.132},{"k":"GDP","q":99,"t":2011,"y":0.138},{"k":"GDP","q":99,"t":2012,"y":0.134},{"k":"GDP","q":99,"t":2013,"y":0.135},{"k":"GDP","q":99,"t":2014,"y":0.138},{"k":"GDP","q":99,"t":2015,"y":0.138},{"k":"GDP","q":99,"t":2016,"y":0.137},{"k":"GDP","q":99,"t":2017,"y":0.137},{"k":"GDP","q":99,"t":2018,"y":0.138},{"k":"GDP","q":99,"t":2019,"y":0.125},{"k":"GDP","q":99,"t":2020,"y":0.134},{"k":"GDP","q":99,"t":2021,"y":0.141},
      {"k":"GDP","q":1,"t":1995,"y":0.041},{"k":"GDP","q":1,"t":1996,"y":-0.051},{"k":"GDP","q":1,"t":1997,"y":-0.113},{"k":"GDP","q":1,"t":1998,"y":-0.119},{"k":"GDP","q":1,"t":1999,"y":-0.098},{"k":"GDP","q":1,"t":2000,"y":-0.083},{"k":"GDP","q":1,"t":2001,"y":-0.081},{"k":"GDP","q":1,"t":2002,"y":-0.096},{"k":"GDP","q":1,"t":2003,"y":-0.109},{"k":"GDP","q":1,"t":2004,"y":-0.103},{"k":"GDP","q":1,"t":2005,"y":-0.092},{"k":"GDP","q":1,"t":2006,"y":-0.096},{"k":"GDP","q":1,"t":2007,"y":-0.111},{"k":"GDP","q":1,"t":2008,"y":-0.106},{"k":"GDP","q":1,"t":2009,"y":-0.118},{"k":"GDP","q":1,"t":2010,"y":-0.093},{"k":"GDP","q":1,"t":2011,"y":-0.09},{"k":"GDP","q":1,"t":2012,"y":-0.092},{"k":"GDP","q":1,"t":2013,"y":-0.088},{"k":"GDP","q":1,"t":2014,"y":-0.116},{"k":"GDP","q":1,"t":2015,"y":-0.09},{"k":"GDP","q":1,"t":2016,"y":-0.098},{"k":"GDP","q":1,"t":2017,"y":-0.101},{"k":"GDP","q":1,"t":2018,"y":-0.092},{"k":"GDP","q":1,"t":2019,"y":-0.093},{"k":"GDP","q":1,"t":2020,"y":-0.088},{"k":"GDP","q":1,"t":2021,"y":-0.11},
      {"k":"GDP","q":90,"t":1995,"y":0.041},{"k":"GDP","q":90,"t":1996,"y":0.017},{"k":"GDP","q":90,"t":1997,"y":-0.008},{"k":"GDP","q":90,"t":1998,"y":-0.002},{"k":"GDP","q":90,"t":1999,"y":0.038},{"k":"GDP","q":90,"t":2000,"y":0.059},{"k":"GDP","q":90,"t":2001,"y":0.058},{"k":"GDP","q":90,"t":2003,"y":0.041},{"k":"GDP","q":90,"t":2005,"y":0.052},{"k":"GDP","q":90,"t":2007,"y":0.058},{"k":"GDP","q":90,"t":2010,"y":0.054},{"k":"GDP","q":90,"t":2015,"y":0.058},{"k":"GDP","q":90,"t":2021,"y":0.061},
      {"k":"GDP","q":80,"t":1995,"y":0.041},{"k":"GDP","q":80,"t":1996,"y":0.011},{"k":"GDP","q":80,"t":1997,"y":-0.02},{"k":"GDP","q":80,"t":1998,"y":-0.015},{"k":"GDP","q":80,"t":1999,"y":0.022},{"k":"GDP","q":80,"t":2000,"y":0.045},{"k":"GDP","q":80,"t":2001,"y":0.043},{"k":"GDP","q":80,"t":2003,"y":0.027},{"k":"GDP","q":80,"t":2005,"y":0.036},{"k":"GDP","q":80,"t":2007,"y":0.042},{"k":"GDP","q":80,"t":2010,"y":0.04},{"k":"GDP","q":80,"t":2015,"y":0.042},{"k":"GDP","q":80,"t":2021,"y":0.044},
      {"k":"GDP","q":70,"t":1995,"y":0.041},{"k":"GDP","q":70,"t":1996,"y":0.007},{"k":"GDP","q":70,"t":1997,"y":-0.028},{"k":"GDP","q":70,"t":1998,"y":-0.025},{"k":"GDP","q":70,"t":1999,"y":0.011},{"k":"GDP","q":70,"t":2000,"y":0.035},{"k":"GDP","q":70,"t":2001,"y":0.033},{"k":"GDP","q":70,"t":2003,"y":0.017},{"k":"GDP","q":70,"t":2005,"y":0.025},{"k":"GDP","q":70,"t":2007,"y":0.031},{"k":"GDP","q":70,"t":2010,"y":0.03},{"k":"GDP","q":70,"t":2015,"y":0.032},{"k":"GDP","q":70,"t":2021,"y":0.033},
      {"k":"GDP","q":60,"t":1995,"y":0.041},{"k":"GDP","q":60,"t":1996,"y":0.003},{"k":"GDP","q":60,"t":1997,"y":-0.035},{"k":"GDP","q":60,"t":1998,"y":-0.033},{"k":"GDP","q":60,"t":1999,"y":0.002},{"k":"GDP","q":60,"t":2000,"y":0.027},{"k":"GDP","q":60,"t":2001,"y":0.025},{"k":"GDP","q":60,"t":2003,"y":0.009},{"k":"GDP","q":60,"t":2005,"y":0.017},{"k":"GDP","q":60,"t":2007,"y":0.022},{"k":"GDP","q":60,"t":2010,"y":0.022},{"k":"GDP","q":60,"t":2015,"y":0.024},{"k":"GDP","q":60,"t":2021,"y":0.025},
      {"k":"GDP","q":50,"t":1995,"y":0.041},{"k":"GDP","q":50,"t":1996,"y":0},{"k":"GDP","q":50,"t":1997,"y":-0.041},{"k":"GDP","q":50,"t":1998,"y":-0.04},{"k":"GDP","q":50,"t":1999,"y":-0.006},{"k":"GDP","q":50,"t":2000,"y":0.019},{"k":"GDP","q":50,"t":2001,"y":0.017},{"k":"GDP","q":50,"t":2003,"y":0.001},{"k":"GDP","q":50,"t":2005,"y":0.009},{"k":"GDP","q":50,"t":2007,"y":0.014},{"k":"GDP","q":50,"t":2010,"y":0.014},{"k":"GDP","q":50,"t":2015,"y":0.016},{"k":"GDP","q":50,"t":2021,"y":0.017},
      {"k":"GDP","q":40,"t":1995,"y":0.041},{"k":"GDP","q":40,"t":1996,"y":-0.003},{"k":"GDP","q":40,"t":1997,"y":-0.047},{"k":"GDP","q":40,"t":1998,"y":-0.047},{"k":"GDP","q":40,"t":1999,"y":-0.014},{"k":"GDP","q":40,"t":2000,"y":0.011},{"k":"GDP","q":40,"t":2001,"y":0.008},{"k":"GDP","q":40,"t":2003,"y":-0.007},{"k":"GDP","q":40,"t":2005,"y":0},{"k":"GDP","q":40,"t":2007,"y":0.005},{"k":"GDP","q":40,"t":2010,"y":0.005},{"k":"GDP","q":40,"t":2015,"y":0.007},{"k":"GDP","q":40,"t":2021,"y":0.008},
      {"k":"GDP","q":30,"t":1995,"y":0.041},{"k":"GDP","q":30,"t":1996,"y":-0.006},{"k":"GDP","q":30,"t":1997,"y":-0.053},{"k":"GDP","q":30,"t":1998,"y":-0.054},{"k":"GDP","q":30,"t":1999,"y":-0.022},{"k":"GDP","q":30,"t":2000,"y":0.002},{"k":"GDP","q":30,"t":2001,"y":-0.001},{"k":"GDP","q":30,"t":2003,"y":-0.016},{"k":"GDP","q":30,"t":2005,"y":-0.009},{"k":"GDP","q":30,"t":2007,"y":-0.004},{"k":"GDP","q":30,"t":2010,"y":-0.004},{"k":"GDP","q":30,"t":2015,"y":-0.002},{"k":"GDP","q":30,"t":2021,"y":-0.001},
      {"k":"GDP","q":20,"t":1995,"y":0.041},{"k":"GDP","q":20,"t":1996,"y":-0.01},{"k":"GDP","q":20,"t":1997,"y":-0.06},{"k":"GDP","q":20,"t":1998,"y":-0.06},{"k":"GDP","q":20,"t":1999,"y":-0.032},{"k":"GDP","q":20,"t":2000,"y":-0.009},{"k":"GDP","q":20,"t":2001,"y":-0.012},{"k":"GDP","q":20,"t":2003,"y":-0.027},{"k":"GDP","q":20,"t":2005,"y":-0.02},{"k":"GDP","q":20,"t":2007,"y":-0.015},{"k":"GDP","q":20,"t":2010,"y":-0.014},{"k":"GDP","q":20,"t":2015,"y":-0.012},{"k":"GDP","q":20,"t":2021,"y":-0.011},
      {"k":"GDP","q":10,"t":1995,"y":0.041},{"k":"GDP","q":10,"t":1996,"y":-0.013},{"k":"GDP","q":10,"t":1997,"y":-0.067},{"k":"GDP","q":10,"t":1998,"y":-0.066},{"k":"GDP","q":10,"t":1999,"y":-0.044},{"k":"GDP","q":10,"t":2000,"y":-0.023},{"k":"GDP","q":10,"t":2001,"y":-0.028},{"k":"GDP","q":10,"t":2003,"y":-0.044},{"k":"GDP","q":10,"t":2005,"y":-0.037},{"k":"GDP","q":10,"t":2007,"y":-0.032},{"k":"GDP","q":10,"t":2010,"y":-0.028},{"k":"GDP","q":10,"t":2015,"y":-0.027},{"k":"GDP","q":10,"t":2021,"y":-0.026},

      {"k":"Debt","q":99,"t":1995,"y":0.57},{"k":"Debt","q":99,"t":1996,"y":0.64},{"k":"Debt","q":99,"t":1997,"y":0.74},{"k":"Debt","q":99,"t":1998,"y":0.88},{"k":"Debt","q":99,"t":1999,"y":1.05},{"k":"Debt","q":99,"t":2000,"y":1.25},{"k":"Debt","q":99,"t":2001,"y":1.43},{"k":"Debt","q":99,"t":2002,"y":1.62},{"k":"Debt","q":99,"t":2003,"y":1.84},{"k":"Debt","q":99,"t":2004,"y":2.03},{"k":"Debt","q":99,"t":2005,"y":2.11},{"k":"Debt","q":99,"t":2006,"y":2.45},{"k":"Debt","q":99,"t":2007,"y":2.75},{"k":"Debt","q":99,"t":2008,"y":2.86},{"k":"Debt","q":99,"t":2009,"y":3.2},{"k":"Debt","q":99,"t":2010,"y":3.45},
      {"k":"Debt","q":1,"t":1995,"y":0.57},{"k":"Debt","q":1,"t":1996,"y":0.53},{"k":"Debt","q":1,"t":1997,"y":0.49},{"k":"Debt","q":1,"t":1998,"y":0.45},{"k":"Debt","q":1,"t":1999,"y":0.38},{"k":"Debt","q":1,"t":2000,"y":0.32},{"k":"Debt","q":1,"t":2001,"y":0.28},{"k":"Debt","q":1,"t":2002,"y":0.23},{"k":"Debt","q":1,"t":2003,"y":0.15},{"k":"Debt","q":1,"t":2004,"y":0.095},{"k":"Debt","q":1,"t":2005,"y":0.06},{"k":"Debt","q":1,"t":2006,"y":0.03},{"k":"Debt","q":1,"t":2007,"y":0},{"k":"Debt","q":1,"t":2008,"y":-0.05},{"k":"Debt","q":1,"t":2009,"y":-0.12},{"k":"Debt","q":1,"t":2010,"y":-0.17},{"k":"Debt","q":1,"t":2011,"y":-0.21},{"k":"Debt","q":1,"t":2012,"y":-0.25},{"k":"Debt","q":1,"t":2013,"y":-0.29},{"k":"Debt","q":1,"t":2014,"y":-0.31},{"k":"Debt","q":1,"t":2015,"y":-0.34},{"k":"Debt","q":1,"t":2016,"y":-0.38},{"k":"Debt","q":1,"t":2017,"y":-0.41},{"k":"Debt","q":1,"t":2018,"y":-0.44},{"k":"Debt","q":1,"t":2019,"y":-0.5},{"k":"Debt","q":1,"t":2020,"y":-0.58},{"k":"Debt","q":1,"t":2021,"y":-0.65},
      {"k":"Debt","q":90,"t":1995,"y":0.57},{"k":"Debt","q":90,"t":1997,"y":0.68},{"k":"Debt","q":90,"t":2000,"y":0.87},{"k":"Debt","q":90,"t":2003,"y":1.05},{"k":"Debt","q":90,"t":2006,"y":1.24},{"k":"Debt","q":90,"t":2010,"y":1.5},{"k":"Debt","q":90,"t":2014,"y":1.75},{"k":"Debt","q":90,"t":2018,"y":2.04},{"k":"Debt","q":90,"t":2021,"y":2.27},
      {"k":"Debt","q":80,"t":1995,"y":0.57},{"k":"Debt","q":80,"t":1997,"y":0.65},{"k":"Debt","q":80,"t":2000,"y":0.77},{"k":"Debt","q":80,"t":2003,"y":0.89},{"k":"Debt","q":80,"t":2006,"y":1.01},{"k":"Debt","q":80,"t":2010,"y":1.17},{"k":"Debt","q":80,"t":2014,"y":1.31},{"k":"Debt","q":80,"t":2018,"y":1.42},{"k":"Debt","q":80,"t":2021,"y":1.49},
      {"k":"Debt","q":70,"t":1995,"y":0.57},{"k":"Debt","q":70,"t":1997,"y":0.63},{"k":"Debt","q":70,"t":2000,"y":0.72},{"k":"Debt","q":70,"t":2003,"y":0.81},{"k":"Debt","q":70,"t":2006,"y":0.89},{"k":"Debt","q":70,"t":2010,"y":0.97},{"k":"Debt","q":70,"t":2014,"y":1.02},{"k":"Debt","q":70,"t":2018,"y":1.05},{"k":"Debt","q":70,"t":2021,"y":1.06},
      {"k":"Debt","q":60,"t":1995,"y":0.57},{"k":"Debt","q":60,"t":1997,"y":0.62},{"k":"Debt","q":60,"t":2000,"y":0.68},{"k":"Debt","q":60,"t":2003,"y":0.74},{"k":"Debt","q":60,"t":2006,"y":0.8},{"k":"Debt","q":60,"t":2010,"y":0.84},{"k":"Debt","q":60,"t":2014,"y":0.85},{"k":"Debt","q":60,"t":2018,"y":0.83},{"k":"Debt","q":60,"t":2021,"y":0.79},
      {"k":"Debt","q":50,"t":1995,"y":0.57},{"k":"Debt","q":50,"t":1997,"y":0.61},{"k":"Debt","q":50,"t":2000,"y":0.65},{"k":"Debt","q":50,"t":2003,"y":0.69},{"k":"Debt","q":50,"t":2006,"y":0.71},{"k":"Debt","q":50,"t":2010,"y":0.72},{"k":"Debt","q":50,"t":2014,"y":0.69},{"k":"Debt","q":50,"t":2018,"y":0.62},{"k":"Debt","q":50,"t":2021,"y":0.56},
      {"k":"Debt","q":40,"t":1995,"y":0.57},{"k":"Debt","q":40,"t":1997,"y":0.6},{"k":"Debt","q":40,"t":2000,"y":0.62},{"k":"Debt","q":40,"t":2003,"y":0.63},{"k":"Debt","q":40,"t":2006,"y":0.63},{"k":"Debt","q":40,"t":2010,"y":0.6},{"k":"Debt","q":40,"t":2014,"y":0.54},{"k":"Debt","q":40,"t":2018,"y":0.45},{"k":"Debt","q":40,"t":2021,"y":0.38},
      {"k":"Debt","q":30,"t":1995,"y":0.57},{"k":"Debt","q":30,"t":1997,"y":0.59},{"k":"Debt","q":30,"t":2000,"y":0.59},{"k":"Debt","q":30,"t":2003,"y":0.58},{"k":"Debt","q":30,"t":2006,"y":0.55},{"k":"Debt","q":30,"t":2010,"y":0.5},{"k":"Debt","q":30,"t":2014,"y":0.41},{"k":"Debt","q":30,"t":2018,"y":0.31},{"k":"Debt","q":30,"t":2021,"y":0.23},
      {"k":"Debt","q":20,"t":1995,"y":0.57},{"k":"Debt","q":20,"t":1997,"y":0.58},{"k":"Debt","q":20,"t":2000,"y":0.56},{"k":"Debt","q":20,"t":2003,"y":0.52},{"k":"Debt","q":20,"t":2006,"y":0.48},{"k":"Debt","q":20,"t":2010,"y":0.4},{"k":"Debt","q":20,"t":2014,"y":0.29},{"k":"Debt","q":20,"t":2018,"y":0.17},{"k":"Debt","q":20,"t":2021,"y":0.08},
      {"k":"Debt","q":10,"t":1995,"y":0.57},{"k":"Debt","q":10,"t":1997,"y":0.56},{"k":"Debt","q":10,"t":2000,"y":0.52},{"k":"Debt","q":10,"t":2003,"y":0.47},{"k":"Debt","q":10,"t":2006,"y":0.4},{"k":"Debt","q":10,"t":2010,"y":0.31},{"k":"Debt","q":10,"t":2014,"y":0.18},{"k":"Debt","q":10,"t":2018,"y":0.04},{"k":"Debt","q":10,"t":2021,"y":-0.07}
    ]
  },
  "config": {
    "font": "DejaVu Sans",
    "view": {"stroke": null},
    "axis": {
      "grid": false,
      "domainColor": "black",
      "domainWidth": 1,
      "tickColor": "black",
      "labelColor": "black",
      "labelFont": "DejaVu Sans",
      "labelFontSize": 14,
      "titleFont": "DejaVu Sans",
      "titleFontSize": 14.3,
      "titleFontWeight": "normal",
      "titleColor": "black",
      "labelFlush": false,
      "labelOverlap": false
    },
    "title": {
      "font": "DejaVu Sans",
      "fontSize": 14.4,
      "fontWeight": "normal",
      "color": "black",
      "anchor": "middle",
      "frame": "group",
      "baseline": "alphabetic",
      "offset": 13,
      "dx": -7
    }
  }
}
